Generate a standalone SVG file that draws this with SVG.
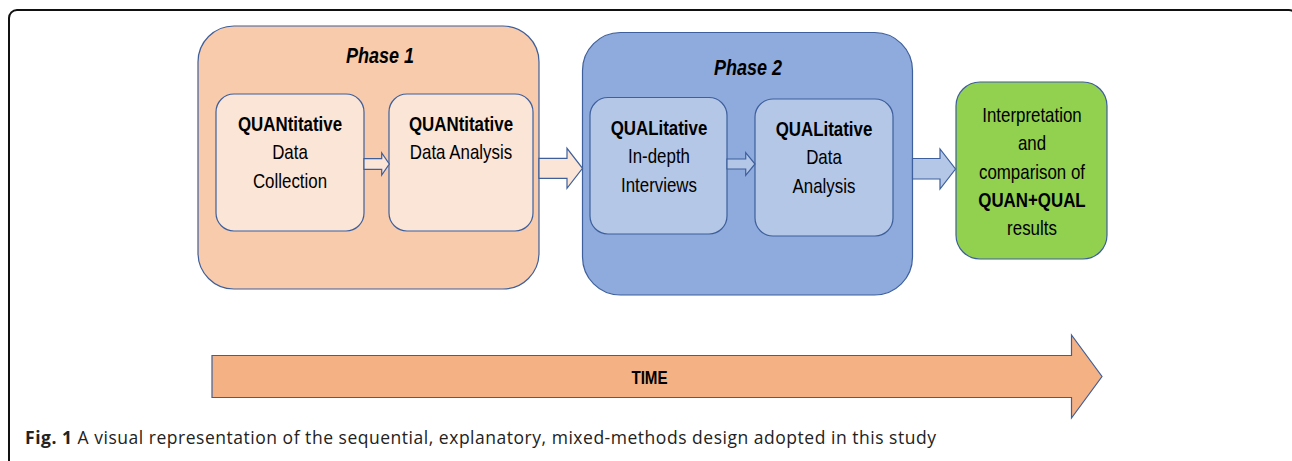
<svg xmlns="http://www.w3.org/2000/svg" width="1292" height="461" viewBox="0 0 1292 461">
<style>
.box{stroke:#3D5F9C;stroke-width:1.2}
.t{font-family:"Liberation Sans",Arial,sans-serif;font-size:20.6px;fill:#000;text-anchor:middle}
.b{font-weight:bold}
.ph{font-family:"Liberation Sans",Arial,sans-serif;font-size:22px;font-weight:bold;font-style:italic;text-anchor:middle}
.cap{font-family:"Open Sans","Noto Sans",sans-serif;font-size:17.5px;fill:#222}
</style>
<rect width="1292" height="461" fill="#fff"/>
<rect x="9" y="10" width="1288" height="470" rx="8" fill="none" stroke="#111" stroke-width="2"/>
<g id="phase1">
<rect class="box" x="198" y="26" width="341" height="263" rx="36" fill="#F8CBAD"/>
<text class="ph" x="380" y="63" transform="matrix(0.82,0,0,1,68.4,0)">Phase 1</text>
</g>
<g id="quan-collection">
<rect class="box" x="216" y="94" width="148" height="137" rx="18" fill="#FBE5D6"/>
<text class="t" x="290" y="131" transform="matrix(0.82,0,0,1,52.2,0)"><tspan class="b">QUANtitative</tspan><tspan x="290" dy="28.5">Data</tspan><tspan x="290" dy="28.5">Collection</tspan></text>
</g>
<g id="quan-analysis">
<rect class="box" x="389" y="94" width="144" height="137" rx="18" fill="#FBE5D6"/>
<text class="t" x="461" y="131" transform="matrix(0.82,0,0,1,82.98,0)"><tspan class="b">QUANtitative</tspan><tspan x="461" dy="28.5">Data Analysis</tspan></text>
</g>
<g id="phase2">
<rect class="box" x="582.5" y="32.5" width="330" height="262.5" rx="38" fill="#8FAADC"/>
<text class="ph" x="748" y="75" transform="matrix(0.82,0,0,1,134.64,0)">Phase 2</text>
</g>
<g id="qual-interviews">
<rect class="box" x="590" y="97.5" width="137" height="136.5" rx="18" fill="#B4C7E7"/>
<text class="t" x="659" y="135" transform="matrix(0.82,0,0,1,118.62,0)"><tspan class="b">QUALitative</tspan><tspan x="659" dy="28.3">In-depth</tspan><tspan x="659" dy="28.3">Interviews</tspan></text>
</g>
<g id="qual-analysis">
<rect class="box" x="755" y="99" width="138" height="137" rx="18" fill="#B4C7E7"/>
<text class="t" x="824" y="136" transform="matrix(0.82,0,0,1,148.32,0)"><tspan class="b">QUALitative</tspan><tspan x="824" dy="28.5">Data</tspan><tspan x="824" dy="28.5">Analysis</tspan></text>
</g>
<g id="interpretation">
<rect class="box" x="956" y="82" width="151" height="177" rx="24" fill="#92D050"/>
<text class="t" x="1032" y="122" transform="matrix(0.82,0,0,1,185.76,0)"><tspan>Interpretation</tspan><tspan x="1032" dy="28.3">and</tspan><tspan x="1032" dy="28.3">comparison of</tspan><tspan x="1032" dy="28.3" class="b">QUAN+QUAL</tspan><tspan x="1032" dy="28.3">results</tspan></text>
</g>
<g id="connectors">
<path class="box" d="M364,158.7 H381.7 V153 L389.3,164 L381.7,175 V169.3 H364 Z" fill="#FBE5D6"/>
<path class="box" d="M539,158.3 H567 V148.3 L582.5,168.3 L567,188.3 V178.3 H539 Z" fill="#FBE5D6"/>
<path class="box" d="M727,159 H745.7 V152.7 L755,164 L745.7,175.3 V169 H727 Z" fill="#B4C7E7"/>
<path class="box" d="M912.5,158.5 H940 V149 L955.5,169 L940,189 V179 H912.5 Z" fill="#B4C7E7"/>
</g>
<g id="time">
<path class="box" d="M212,355.5 H1071.5 V335 L1102,376.5 L1071.5,418 V397.5 H212 Z" fill="#F4B183"/>
<text class="t b" x="649.5" y="384.3" style="font-size:18.5px" transform="matrix(0.82,0,0,1,116.91,0)">TIME</text>
</g>
<text class="cap" x="25" y="444" textLength="911" lengthAdjust="spacing"><tspan font-weight="bold">Fig. 1</tspan> A visual representation of the sequential, explanatory, mixed-methods design adopted in this study</text>
</svg>
